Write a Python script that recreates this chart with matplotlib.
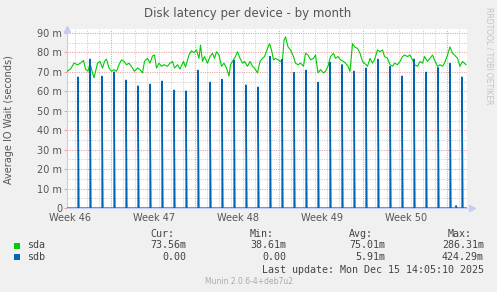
import matplotlib
matplotlib.use('Agg')
import matplotlib.pyplot as plt
from matplotlib.patches import Rectangle

# ---------------- data (time in hours since the left edge of the graph, values in ms) ----------------
sda_hours = [0, 7, 14, 21, 27, 33, 37, 42, 46, 51, 54, 57, 61, 66, 71, 75, 79, 84, 89, 94, 99, 104,
             109, 114, 119, 124, 131, 135, 141, 146, 151, 155, 161, 166, 171, 175, 179, 184, 189, 194,
             201, 206, 211, 215, 221, 226, 233, 237, 244, 249, 254, 259, 264, 267, 271, 275, 281, 286,
             291, 295, 299, 304, 309, 314, 319, 324, 327, 333, 337, 341, 346, 351, 355, 361, 366, 371,
             375, 381, 386, 391, 395, 401, 405, 409, 413, 417, 422, 427, 431, 434, 437, 442, 447, 453,
             457, 462, 467, 473, 477, 482, 487, 493, 497, 502, 507, 513, 517, 522, 527, 533, 537, 542,
             547, 553, 557, 562, 566, 571, 575, 581, 586, 591, 595, 601, 606, 611, 615, 621, 626, 631,
             635, 641, 646, 651, 655, 661, 666, 671, 675, 681, 686, 691, 695, 701, 706, 711, 715, 721,
             726, 731, 735, 741, 746, 751, 755, 761, 766, 771, 775, 781, 786, 791, 798]
sda_ms = [70.3, 71.5, 74.5, 73.7, 74.5, 75.9, 71.5, 70.3, 74.5, 69.5, 67.0, 70.3, 74.5, 75.4, 72.0,
          75.4, 76.6, 72.0, 70.3, 71.2, 70.3, 73.7, 76.2, 75.4, 73.7, 74.5, 72.0, 70.3, 72.0, 71.2,
          69.5, 75.4, 77.0, 74.5, 78.2, 78.7, 72.0, 74.5, 72.9, 73.7, 72.9, 74.5, 75.4, 72.0, 73.7,
          71.5, 75.4, 72.5, 78.7, 80.9, 79.9, 81.3, 77.0, 83.8, 75.4, 77.9, 74.5, 77.9, 79.6, 77.0,
          80.4, 78.7, 72.9, 74.5, 72.0, 67.8, 73.7, 76.2, 77.9, 80.4, 77.0, 74.5, 75.4, 72.9, 75.4,
          72.9, 72.0, 69.5, 75.4, 77.0, 77.9, 82.1, 84.6, 81.3, 76.2, 77.0, 76.2, 75.4, 76.2, 86.3,
          88.0, 82.9, 81.3, 77.9, 74.5, 73.7, 74.5, 72.9, 79.6, 78.7, 76.2, 77.0, 78.7, 69.5, 71.2,
          69.5, 70.3, 72.9, 77.9, 79.6, 77.0, 77.9, 76.2, 75.4, 74.5, 72.9, 70.3, 84.6, 82.9, 82.1,
          79.6, 75.4, 74.5, 72.9, 77.0, 74.5, 76.2, 81.3, 80.4, 81.3, 77.9, 77.0, 73.7, 72.9, 74.5,
          73.7, 75.4, 77.9, 78.7, 77.9, 78.7, 76.2, 73.7, 72.9, 75.4, 74.5, 77.9, 75.4, 77.0, 78.7,
          76.2, 72.9, 73.7, 72.9, 74.5, 78.7, 82.9, 79.6, 78.7, 77.0, 72.9, 75.4, 73.7]

sdb_spike_hours = [22, 46, 70, 94, 118, 142, 166, 190, 214, 238, 262, 286, 310, 334, 358, 382, 406,
                   430, 454, 478, 502, 526, 550, 574, 598, 622, 646, 670, 694, 718, 742, 766, 778, 790]
sdb_spike_ms = [67.4, 76.6, 67.8, 70.0, 65.8, 62.8, 63.7, 65.3, 60.7, 60.2, 70.9, 64.7, 66.2, 76.0,
                63.3, 62.2, 78.0, 76.5, 69.7, 70.9, 64.7, 75.0, 73.7, 70.4, 72.0, 76.5, 72.8, 67.9,
                76.6, 69.9, 72.2, 74.4, 1.2, 67.4]

week_labels = ['Week 46', 'Week 47', 'Week 48', 'Week 49', 'Week 50']
week_label_hours = [6, 174, 342, 510, 678]
week_major_hours = [88, 256, 424, 592, 760]
day_grid_hours = list(range(16, 800, 24))
y_ticks = [0, 10, 20, 30, 40, 50, 60, 70, 80, 90]
y_minor = [5, 15, 25, 35, 45, 55, 65, 75, 85]
y_tick_labels = ['0' if v == 0 else f'{v} m' for v in y_ticks]

legend_cols = ['Cur:', 'Min:', 'Avg:', 'Max:']
legend_names = ['sda', 'sdb']
legend_colors = ['#00CC00', '#0066B3']
legend_values = [['73.56m', '38.61m', '75.01m', '286.31m'],
                 ['  0.00 ', '  0.00 ', ' 5.91m', '424.29m']]
last_update = 'Last update: Mon Dec 15 14:05:10 2025'
version = 'Munin 2.0.6-4+deb7u2'

# ---------------- figure ----------------
W, H = 497, 292
fig = plt.figure(figsize=(W / 100, H / 100), dpi=100, facecolor='#F0F0F0')

def P(x, y):
    return (x / W, 1 - y / H)

ax = fig.add_axes([67 / W, (H - 208) / H, 400 / W, (208 - 29) / H])
ax.set_facecolor('white')
ax.set_xlim(0, 800)
ax.set_ylim(0, 179 / 1.944)

grey = '#CFCFCF'
red = '#E8A0A0'
dots = (0, (1, 1.2))
ax.vlines([h for h in day_grid_hours if h not in week_major_hours], 0, 1, transform=ax.get_xaxis_transform(),
          colors=grey, linestyles=dots, lw=0.75, zorder=1)
ax.hlines(y_minor, 0, 800, colors=grey, linestyles=dots, lw=0.75, zorder=1)
ax.hlines(y_ticks[1:], 0, 800, colors=red, linestyles=dots, lw=0.75, zorder=1)
ax.vlines(week_major_hours, 0, 1, transform=ax.get_xaxis_transform(),
          colors=red, linestyles=dots, lw=0.75, zorder=1)

# sda
ax.plot(sda_hours, sda_ms, color='#00CC00', lw=0.8, zorder=3)

# sdb: zero line with one-sample spikes
bx, by = [0], [0]
for h, v in zip(sdb_spike_hours, sdb_spike_ms):
    bx += [h, h, h + 2]
    by += [0, v, 0]
bx.append(800)
by.append(0)
ax.plot(bx, by, color='#0066B3', lw=0.9, zorder=4)

# axes styling
for s in ['top', 'right']:
    ax.spines[s].set_visible(False)
for s in ['left', 'bottom']:
    ax.spines[s].set_color('#C4CCF4')
    ax.spines[s].set_linewidth(0.8)
ax.plot([0], [1.0], marker='^', ms=4, color='#C4CCF4', transform=ax.transAxes, clip_on=False, zorder=5)
ax.plot([1.0125], [0], marker='>', ms=4, color='#C4CCF4', transform=ax.transAxes, clip_on=False, zorder=5)

ax.set_yticks(y_ticks)
ax.set_yticklabels(y_tick_labels)
ax.set_xticks(week_label_hours)
ax.set_xticklabels(week_labels)
ax.tick_params(axis='y', length=2, width=0.7, color=red, pad=1.5, labelsize=7, labelcolor='#555555')
ax.tick_params(axis='x', length=0, pad=3.6, labelsize=7, labelcolor='#555555')

# texts
fig.text(*P(248, 13), 'Disk latency per device - by month', ha='center', va='center',
         fontsize=8.5, color='#555555')
fig.text(*P(9, 120), 'Average IO Wait (seconds)', rotation=90, ha='center', va='center',
         fontsize=7, color='#555555')
fig.text(*P(489, 56), 'RRDTOOL / TOBI OETIKER', rotation=270, ha='center', va='center',
         fontsize=5.5, color='#C4C4C4')

mono = dict(family='DejaVu Sans Mono', fontsize=7.2, color='#444444', va='center')
col_x = [150, 250, 349, 442]
hdr_x = [150, 250, 349, 448]
for x, t in zip(hdr_x, legend_cols):
    fig.text(*P(x, 234), t, ha='left', **mono)
row_y = [245.5, 257.3]
for name, c, vals, y in zip(legend_names, legend_colors, legend_values, row_y):
    fig.patches.append(Rectangle(P(14, y + 3), 6 / W, 6 / H, transform=fig.transFigure,
                                 facecolor=c, edgecolor='none'))
    fig.text(*P(26.7, y), name, ha='left', **mono)
    for x, v in zip(col_x, vals):
        v2 = v.rstrip(' ')
        lead = len(v2) - len(v2.lstrip(' '))
        fig.text(*P(x + 6 * lead, y), v2.strip(), ha='left', **mono)
fig.text(*P(261.7, 270), last_update, ha='left', **mono)
fig.text(*P(249, 281), version, ha='center', va='center', fontsize=5.5, color='#AAAAAA')

fig.savefig('out.png', dpi=100, facecolor=fig.get_facecolor())
